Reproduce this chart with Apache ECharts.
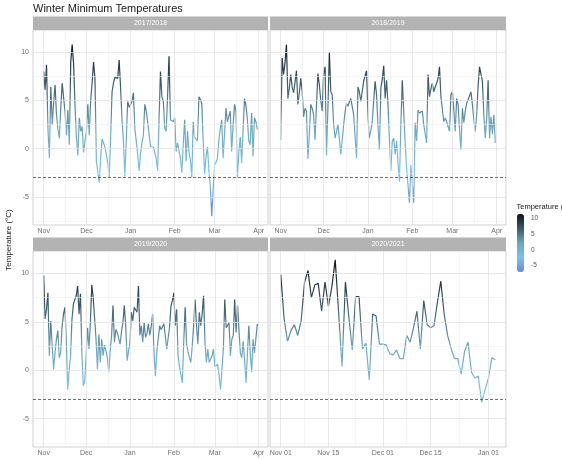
<!DOCTYPE html>
<html>
<head>
<meta charset="utf-8">
<script src="https://cdn.jsdelivr.net/npm/echarts@6/dist/echarts.min.js"></script>
<style>
  html, body { margin: 0; padding: 0; background: #ffffff; }
  #chart { width: 562px; height: 459px; }
</style>
</head>
<body>
<div id="chart"></div>
<script>
// Daily minimum temperatures (°C), one value per day starting on 1 November.
const seasons = ['2017/2018', '2018/2019', '2019/2020', '2020/2021'];

const temps1718 = [
  8.0, 6.1, 8.7, 2.1, -1.0, 6.4, 2.5, 4.8, 6.6, 3.5,
  2.0, 1.1, 4.2, 6.8, 6.6, 3.8, 1.4, 4.0, 0.4, 9.0,
  10.8, 8.8, 4.5, 1.1, -0.7, 3.2, 1.8, 2.3, -0.4, 0.8,
  1.8, 4.6, 1.4, 5.0, 6.8, 9.0, 7.3, -1.3, -2.4, -3.5,
  -1.0, 1.0, 0.6, 0.2, 0.1, -1.5, -3.0, 1.1, 5.9, 6.8,
  7.4, 7.5, 7.3, 9.2, 6.3, 3.0, 0.8, -2.9, 1.0, 4.9,
  4.3, 4.2, 4.9, 5.8, 2.1, 0.8, -0.6, -2.3, -0.5, 0.6,
  1.4, 4.6, 3.9, 2.8, 1.5, 0.2, 0.3, 0.2, 0.1, -1.0,
  -2.3, 3.0, 8.0, 5.4, 4.9, 2.1, 1.8, 5.5, 9.6, 3.0,
  2.9, 2.8, 3.2, -0.3, 0.6, 0.4, -1.0, -2.5, 0.5, 3.0,
  -1.3, 1.8, -0.3, -1.2, -3.0, 2.8, 1.2, 1.1, 0.8, 5.4,
  5.1, 4.7, 0.8, -2.7, -0.8, 0.2, -2.3, -4.0, -7.0, -4.2,
  -1.7, -1.4, -1.0, 0.9, 2.1, 3.0, -1.0, 1.6, 4.2, 2.8,
  3.0, 3.9, -0.3, 2.5, 4.6, 3.9, -3.0, -0.4, 1.2, -1.5,
  2.0, 5.2, 4.5, 3.1, 0.8, 0.4, 3.7, -0.8, 3.2, 2.8,
  2.0
];

const temps1819 = [
  0.9, 9.4, 7.7, 8.9, 10.8, 5.2, 6.3, 7.7, 6.4, 5.8,
  6.9, 8.1, 4.6, 5.8, 7.3, 5.9, 3.3, 4.2, 3.9, -1.1,
  1.5, 4.6, 4.2, 3.5, 0.9, 4.5, 7.8, 6.6, 5.0, 3.9,
  7.8, 8.5, -0.7, 4.2, 10.0, 5.9, 5.6, 2.5, 1.1, 1.8,
  2.5, 1.0, -0.6, 0.9, 2.5, 3.8, 4.7, 4.4, 4.9, 5.2,
  5.3, 3.5, 1.2, -1.0, 6.4, 5.9, 4.9, 5.1, 7.0, 7.6,
  8.1, 3.3, 1.1, 1.9, 2.8, 5.0, 7.0, 5.6, 2.4, -0.1,
  6.3, 7.2, 8.6, 5.2, 7.1, 4.6, 1.0, -2.3, 0.8, 1.1,
  -0.6, 0.8, -1.5, -3.4, 2.5, 7.1, 3.8, 0.6, -2.0, -3.8,
  -5.6, -1.7, -3.6, -5.6, 2.7, 0.8, 4.0, 3.7, 3.8, 3.9,
  2.5, 1.5, 0.6, 7.7, 5.4, 6.2, 6.8, 5.9, 6.4, 6.8,
  7.3, 8.5, 5.4, 5.2, 2.8, 3.2, 2.8, 2.3, 1.8, 5.6,
  5.9, 4.0, 1.8, 5.2, 4.6, 2.0, -0.1, 4.2, 2.7, 3.9,
  4.7, 4.9, 5.5, 5.9, 4.6, 3.0, 1.8, 3.5, 6.5, 8.5,
  8.3, 7.0, 3.5, 1.1, 3.2, 7.1, 1.1, 3.3, 1.5, 3.5,
  0.6
];

const temps1920 = [
  9.8, 5.3, 6.3, 8.0, 1.5, 5.1, 5.3, 0.1, 1.8, 3.2,
  4.1, 1.3, 1.8, 4.5, 5.8, 6.5, 3.0, -2.0, 0.0, 1.5,
  5.3, 6.8, 7.3, 7.7, 8.7, 5.8, 7.9, 1.8, -1.6, -1.1,
  1.5, 4.4, 2.2, 4.9, 8.8, 7.5, 7.3, 3.2, 0.1, 3.7,
  0.8, 3.2, 1.5, 2.6, 2.0, 1.3, -0.2, 2.0, 3.6, 6.7,
  2.9, 4.2, 3.9, 4.1, 2.7, 4.0, 4.9, 6.7, 4.5, 1.0,
  2.0, 2.9, 6.0, 5.1, 6.5, 6.7, 6.0, 8.7, 3.6, 4.6,
  2.9, 4.9, 3.4, 3.8, 4.8, 3.6, 4.5, 5.8, 1.8, -0.6,
  2.0, 1.8, 4.6, 4.2, 4.5, 4.8, 4.6, 2.2, 2.0, 4.5,
  6.7, 7.2, 8.0, 4.6, 6.3, 1.5, 0.4, -0.5, -1.3, 3.0,
  6.5, 2.7, 1.9, 1.3, 0.8, 2.5, 4.6, 7.3, 4.6, 2.7,
  6.0, 4.6, 5.8, 7.7, 2.9, 0.8, 2.2, 0.8, 0.8, 1.5,
  2.2, 0.4, 0.5, 0.6, -0.6, -2.0, 0.1, 2.2, 7.3, 4.4,
  4.6, 4.9, 1.5, 3.2, 3.6, 7.3, 3.9, 6.7, 6.8, 1.8,
  1.3, 3.0, 1.0, -1.3, 1.7, 4.6, 1.8, -0.2, 3.2, 1.8,
  1.7, 4.8
];

const temps2021 = [
  9.9, 5.3, 3.0, 4.1, 4.7, 3.6, 5.1, 9.1, 10.3, 7.5,
  8.8, 9.0, 6.1, 9.1, 6.6, 8.6, 11.4, 6.0, 0.4, 9.1,
  5.5, 2.1, 7.6, 7.6, 2.2, 2.8, -1.0, 5.8, 5.6, 2.7,
  2.7, 2.6, 1.7, 1.6, 2.1, 1.2, 1.2, 3.6, 2.9, 4.4,
  6.1, 2.2, 7.2, 4.7, 4.4, 4.6, 7.0, 9.2, 5.8, 3.6,
  2.3, 1.2, 1.2, -0.4, 2.0, 2.9, -0.2, -0.8, -0.6, -3.3,
  -2.0, -0.8, 1.3, 1.1
];

// Axis breaks, as days after 1 November, with their labels.
const monthLabels = ['Nov', 'Dec', 'Jan', 'Feb', 'Mar', 'Apr'];
const monthDays = [0, 30, 61, 92, 120, 151];
const monthDaysLeap = [0, 30, 61, 92, 121, 152];
const fortnightLabels = ['Nov 01', 'Nov 15', 'Dec 01', 'Dec 15', 'Jan 01'];
const fortnightDays = [0, 14, 30, 44, 61];
const tempTicks = [-5, 0, 5, 10];
const frostLine = -3;

const panels = [
  { season: seasons[0], values: temps1718, ticks: monthDays, labels: monthLabels },
  { season: seasons[1], values: temps1819, ticks: monthDays, labels: monthLabels },
  { season: seasons[2], values: temps1920, ticks: monthDaysLeap, labels: monthLabels },
  { season: seasons[3], values: temps2021, ticks: fortnightDays, labels: fortnightLabels }
];

// Plot boxes of the 2x2 facet layout and the strips above them.
const boxes = [
  { left: 33, top: 30, width: 235, height: 195 },
  { left: 270, top: 30, width: 236, height: 195 },
  { left: 33, top: 251, width: 235, height: 196 },
  { left: 270, top: 251, width: 236, height: 196 }
];
const stripHeight = 13.5;

const FONT = '"Liberation Sans", Arial, Helvetica, sans-serif';
const tempColors = ['#6b8bd8', '#7cc2e6', '#6ea6be', '#3c5a68', '#101315'];

const allValues = [].concat(temps1718, temps1819, temps1920, temps2021);
const dataMin = Math.min.apply(null, allValues);
const dataMax = Math.max.apply(null, allValues);
const yPad = (dataMax - dataMin) * 0.05;
const yLo = dataMin - yPad;
const yHi = dataMax + yPad;

// Midpoints between neighbouring breaks (extended one step each way), kept inside the range.
function minorBreaks(major, lo, hi) {
  const ext = [2 * major[0] - major[1]].concat(major,
    [2 * major[major.length - 1] - major[major.length - 2]]);
  const out = [];
  for (let i = 0; i < ext.length - 1; i++) {
    const m = (ext[i] + ext[i + 1]) / 2;
    if (m > lo && m < hi) out.push(m);
  }
  return out;
}

const grids = [], xAxes = [], yAxes = [], series = [], graphics = [];
const lineSeriesIdx = [];

panels.forEach(function (p, i) {
  const box = boxes[i];
  const n = p.values.length - 1;
  const xLo = -0.05 * n, xHi = n * 1.05;
  const leftCol = (i % 2 === 0);

  grids.push(Object.assign({ show: true, borderColor: '#b3b3b3', borderWidth: 0.6,
    backgroundColor: '#ffffff' }, box));

  const ticks = p.ticks, labels = p.labels;
  xAxes.push({
    type: 'value', gridIndex: i, min: xLo, max: xHi,
    axisLine: { show: false }, splitLine: { show: false },
    axisTick: { show: true, customValues: ticks, length: 2, lineStyle: { color: '#b3b3b3', width: 0.6 } },
    axisLabel: {
      customValues: ticks, fontSize: 7, color: '#707070', margin: 3, fontFamily: FONT,
      formatter: function (v) {
        let k = 0;
        for (let j = 1; j < ticks.length; j++) if (Math.abs(ticks[j] - v) < Math.abs(ticks[k] - v)) k = j;
        return labels[k];
      }
    }
  });
  yAxes.push({
    type: 'value', gridIndex: i, min: yLo, max: yHi,
    axisLine: { show: false }, splitLine: { show: false },
    axisTick: { show: leftCol, customValues: tempTicks, length: 2, lineStyle: { color: '#b3b3b3', width: 0.6 } },
    axisLabel: { show: leftCol, customValues: tempTicks, fontSize: 7, color: '#707070', margin: 4, fontFamily: FONT }
  });

  // Panel grid: light minor lines, slightly stronger major lines.
  const gridLines = [];
  minorBreaks(ticks, xLo, xHi).forEach(function (v) {
    gridLines.push({ xAxis: v, lineStyle: { color: '#efefef', width: 0.6, type: 'solid' } });
  });
  minorBreaks(tempTicks, yLo, yHi).forEach(function (v) {
    gridLines.push({ yAxis: v, lineStyle: { color: '#efefef', width: 0.6, type: 'solid' } });
  });
  ticks.forEach(function (v) {
    gridLines.push({ xAxis: v, lineStyle: { color: '#dfdfdf', width: 0.7, type: 'solid' } });
  });
  tempTicks.forEach(function (v) {
    gridLines.push({ yAxis: v, lineStyle: { color: '#dfdfdf', width: 0.7, type: 'solid' } });
  });
  series.push({
    type: 'line', xAxisIndex: i, yAxisIndex: i, data: [], silent: true, z: 1,
    markLine: { silent: true, animation: false, symbol: ['none', 'none'], label: { show: false },
      emphasis: { disabled: true }, data: gridLines }
  });

  // Daily minimum temperature line, coloured by value.
  lineSeriesIdx.push(series.length);
  series.push({
    type: 'line', name: p.season, xAxisIndex: i, yAxisIndex: i, silent: true, z: 3,
    showSymbol: false, symbol: 'none',
    lineStyle: { width: 1.2 },
    data: p.values.map(function (v, d) { return [d, v]; })
  });

  // Dashed reference line at -3 °C.
  series.push({
    type: 'line', xAxisIndex: i, yAxisIndex: i, data: [], silent: true, z: 4,
    markLine: { silent: true, animation: false, symbol: ['none', 'none'], label: { show: false },
      emphasis: { disabled: true },
      lineStyle: { color: '#333333', width: 0.7, type: [3, 2] },
      data: [{ yAxis: frostLine }] }
  });

  // Facet strip.
  graphics.push({
    type: 'rect', silent: true,
    shape: { x: box.left, y: box.top - stripHeight, width: box.width, height: stripHeight },
    style: { fill: '#b3b3b3' }
  });
  graphics.push({
    type: 'text', silent: true,
    style: { text: p.season, x: box.left + box.width / 2, y: box.top - stripHeight / 2,
      align: 'center', verticalAlign: 'middle', fill: '#ffffff', fontSize: 7, fontFamily: FONT }
  });
});

// Colour bar axis (tick labels beside the gradient).
const legendIdx = grids.length;
grids.push({ left: 524, top: 214, width: 1, height: 58, show: false });
xAxes.push({ type: 'value', gridIndex: legendIdx, show: false });
yAxes.push({
  type: 'value', gridIndex: legendIdx, min: dataMin, max: dataMax, position: 'right',
  axisLine: { show: false }, axisTick: { show: false }, splitLine: { show: false },
  axisLabel: { customValues: tempTicks, fontSize: 6.5, color: '#555555', margin: 6, fontFamily: FONT }
});

graphics.push({
  type: 'text', silent: true,
  style: { text: 'Winter Minimum Temperatures', x: 33, y: 3, fill: '#1a1a1a', fontSize: 11, fontFamily: FONT }
});
graphics.push({
  type: 'text', silent: true, x: 9, y: 240, rotation: Math.PI / 2,
  style: { text: 'Temperature (°C)', x: 0, y: 0, align: 'center', verticalAlign: 'middle',
    fill: '#1a1a1a', fontSize: 8, fontFamily: FONT }
});
graphics.push({
  type: 'text', silent: true,
  style: { text: 'Temperature (°C)', x: 516.5, y: 203, fill: '#1a1a1a', fontSize: 7.5, fontFamily: FONT }
});

const chart = echarts.init(document.getElementById('chart'), null, { renderer: 'canvas' });
chart.setOption({
  animation: false,
  backgroundColor: '#ffffff',
  grid: grids,
  xAxis: xAxes,
  yAxis: yAxes,
  visualMap: {
    type: 'continuous', show: true, seriesIndex: lineSeriesIdx, dimension: 1,
    min: dataMin, max: dataMax, calculable: false, hoverLink: false,
    inRange: { color: tempColors },
    left: 517, top: 214, padding: 0, itemWidth: 7, itemHeight: 58, text: null,
    textStyle: { fontSize: 6.5, color: '#555555' }
  },
  series: series,
  graphic: graphics
});
</script>
</body>
</html>
